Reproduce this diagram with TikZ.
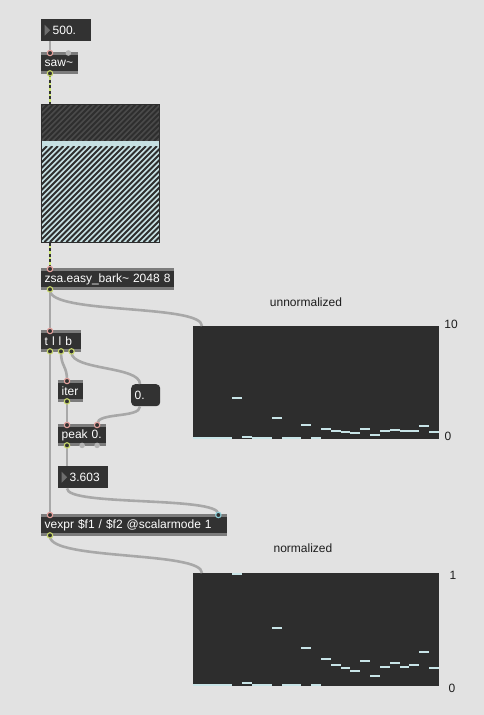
\documentclass[tikz,border=0pt]{standalone}
\usepackage{fontspec}
\setmainfont{Liberation Sans}
\definecolor{patchbg}{HTML}{E2E2E2}
\definecolor{boxbody}{HTML}{323232}
\definecolor{boxstrip}{HTML}{7C7C7C}
\definecolor{numarrow}{HTML}{6E6E6E}
\definecolor{cablegray}{HTML}{A8A8A8}
\definecolor{sigyellow}{HTML}{CFEA74}
\definecolor{inpink}{HTML}{E6A29E}
\definecolor{outyellow}{HTML}{C9D86C}
\definecolor{incyan}{HTML}{8CCFD8}
\definecolor{idlegray}{HTML}{B4B4B4}
\definecolor{meterdark}{HTML}{4A4A4A}
\definecolor{meterlight}{HTML}{C6E0E2}
\definecolor{hatch}{HTML}{2E2E2E}
\definecolor{sliderbg}{HTML}{2D2D2D}
\definecolor{sliderval}{HTML}{C8E4E7}
\definecolor{labeltext}{HTML}{1E1E1E}
\begin{document}
\begin{tikzpicture}[x=1pt,y=-1pt,
  box/.style={fill=boxbody, anchor=north west, minimum height=22pt, inner xsep=3.5pt,
    inner ysep=0pt, text=white, font=\fontsize{12}{14}\selectfont, align=left},
  object/.style={box, path picture={
    \fill[boxstrip] (path picture bounding box.north west) rectangle ([yshift=-3pt]path picture bounding box.north east);
    \fill[boxstrip] ([yshift=3pt]path picture bounding box.south west) rectangle (path picture bounding box.south east);}},
  number/.style={box, execute at begin node=\hspace*{8pt}, path picture={
    \fill[numarrow] ([shift={(3.5pt,-5.5pt)}]path picture bounding box.north west) -- ++(0pt,-11pt) -- ++(5.5pt,5.5pt) -- cycle;}},
  message/.style={box, rounded corners=4pt},
  meter/.style={draw=hatch, line width=0.8pt, anchor=north west, minimum width=118pt, minimum height=138pt, inner sep=0pt},
  slider/.style={fill=sliderbg, anchor=north west, minimum width=246pt, minimum height=113pt, inner sep=0pt},
  caption/.style={text=labeltext, font=\fontsize{12}{14}\selectfont},
  cable/.style={draw=cablegray, line width=2.6pt},
  signal/.style={draw=sigyellow, line width=2.8pt, postaction={draw=boxbody, line width=1.2pt, dash pattern=on 3pt off 2.5pt}},
  inlet/.style={draw=inpink, fill=boxbody, line width=1.1pt},
  outlet/.style={draw=outyellow, fill=boxbody, line width=1.1pt},
  idle/.style={fill=idlegray}]

  % Patcher background
  \fill[patchbg] (0,0) rectangle (484,715);
  \useasboundingbox (0,0) rectangle (484,715);

  % Source
  \node[number, text width=43pt] (freq) at (41,19) {500.};
  \node[object, text width=30pt] (saw) at (41,52) {saw\textasciitilde};

  % Scope (hatched meter)
  \begin{scope}
    \clip (41,104) rectangle (159,141);
    \fill[meterdark] (41,104) rectangle (159,141);
    \foreach \x in {0,5.5,...,165} \draw[hatch, line width=2pt] (\x,141) -- (\x+37,104);
  \end{scope}
  \fill[meterlight] (41,141) rectangle (159,146);
  \begin{scope}
    \clip (41,146) rectangle (159,242);
    \fill[meterlight] (41,146) rectangle (159,242);
    \foreach \x in {-60,-54.5,...,165} \draw[hatch, line width=2pt] (\x,242) -- (\x+96,146);
  \end{scope}
  \node[meter] (scope) at (41,104) {};

  % Analysis chain
  \node[object, text width=126pt] (bark) at (41,268) {zsa.easy\_bark\textasciitilde{} 2048 8};
  \node[object, text width=33pt] (trig) at (41,330) {t l l b};
  \node[object, text width=18pt] (iter) at (58,380) {iter};
  \node[message, text width=22pt] (reset) at (131,384) {0.};
  \node[object, text width=41pt] (peak) at (58,424) {peak 0.};
  \node[number, text width=43pt] (maxval) at (58,466) {3.603};
  \node[object, text width=179pt] (vexpr) at (41,514) {vexpr \$f1 / \$f2 @scalarmode 1};

  % Multisliders
  \node[slider] (raw) at (193,326) {};
  \node[slider] (norm) at (193,573) {};
  \foreach \v [count=\i from 0] in {0,0,0,0,1,0.018,0,0,0.51,0,0,0.33,0,0.23,0.18,0.15,0.125,0.215,0.085,0.165,0.2,0.165,0.18,0.3,0.15}{
    \fill[sliderval] (193+\i*9.84,437-\v*0.3603*111) rectangle ++(9.84,2);
    \fill[sliderval] (193+\i*9.84,684-\v*111) rectangle ++(9.84,2);
  }

  % Captions
  \node[caption] (rawlabel) at (306,302) {unnormalized};
  \node[caption] (rawtop) at (451,324) {10};
  \node[caption] (rawbottom) at (448,436) {0};
  \node[caption] (normlabel) at (303,548) {normalized};
  \node[caption] (normtop) at (453,575) {1};
  \node[caption] (normbottom) at (452,688) {0};

  % Patch cords
  \draw[cable] ([xshift=9pt]freq.south west) -- ([xshift=9pt]saw.north west);
  \draw[signal] ([xshift=9pt]saw.south west) -- ([xshift=9pt]scope.north west);
  \draw[signal] ([xshift=9pt]scope.south west) -- ([xshift=9pt]bark.north west);
  \draw[cable] ([xshift=9pt]bark.south west) -- ([xshift=9pt]trig.north west);
  \draw[cable] ([xshift=9pt]bark.south west) .. controls +(0,24) and +(0,-22) .. ([xshift=9pt]raw.north west);
  \draw[cable] ([xshift=9pt]trig.south west) -- ([xshift=9pt]vexpr.north west);
  \draw[cable] ([xshift=20pt]trig.south west) .. controls +(0,14) and +(0,-14) .. ([xshift=9pt]iter.north west);
  \draw[cable] ([xshift=30.5pt]trig.south west) .. controls +(0,18) and +(0,-18) .. ([xshift=9pt]reset.north west);
  \draw[cable] ([xshift=9pt]iter.south west) -- ([xshift=9pt]peak.north west);
  \draw[cable] ([xshift=9pt]reset.south west) .. controls +(0,12) and +(0,-12) .. ([xshift=-9.3pt]peak.north east);
  \draw[cable] ([xshift=9pt]peak.south west) -- ([xshift=9pt]maxval.north west);
  \draw[cable] ([xshift=9pt]maxval.south west) .. controls +(0,18) and +(0,-18) .. ([xshift=-9pt]vexpr.north east);
  \draw[cable] ([xshift=9pt]vexpr.south west) .. controls +(0,24) and +(0,-22) .. ([xshift=9pt]norm.north west);

  % Inlets and outlets
  \draw[inlet] ([shift={(9pt,-1pt)}]saw.north west) circle (2.7pt);
  \fill[idle] ([shift={(-10pt,-1pt)}]saw.north east) circle (2.8pt);
  \draw[outlet] ([shift={(9pt,1pt)}]saw.south west) circle (2.7pt);
  \draw[inlet] ([shift={(9pt,-1pt)}]bark.north west) circle (2.7pt);
  \draw[outlet] ([shift={(9pt,1pt)}]bark.south west) circle (2.7pt);
  \draw[inlet] ([shift={(9pt,-1pt)}]trig.north west) circle (2.7pt);
  \foreach \o in {9,20,30.5} \draw[outlet] ([shift={(\o pt,1pt)}]trig.south west) circle (2.7pt);
  \draw[inlet] ([shift={(9pt,-1pt)}]iter.north west) circle (2.7pt);
  \draw[outlet] ([shift={(9pt,1pt)}]iter.south west) circle (2.7pt);
  \draw[inlet] ([shift={(9pt,-1pt)}]peak.north west) circle (2.7pt);
  \draw[inlet] ([shift={(-9.3pt,-1pt)}]peak.north east) circle (2.7pt);
  \draw[outlet] ([shift={(9pt,1pt)}]peak.south west) circle (2.7pt);
  \fill[idle] ([shift={(-24.3pt,1pt)}]peak.south east) circle (2.8pt);
  \fill[idle] ([shift={(-9.3pt,1pt)}]peak.south east) circle (2.8pt);
  \draw[inlet] ([shift={(9pt,-1pt)}]vexpr.north west) circle (2.7pt);
  \draw[inlet, draw=incyan] ([shift={(-9pt,-1pt)}]vexpr.north east) circle (2.7pt);
  \draw[outlet] ([shift={(9pt,1pt)}]vexpr.south west) circle (2.7pt);
\end{tikzpicture}
\end{document}
